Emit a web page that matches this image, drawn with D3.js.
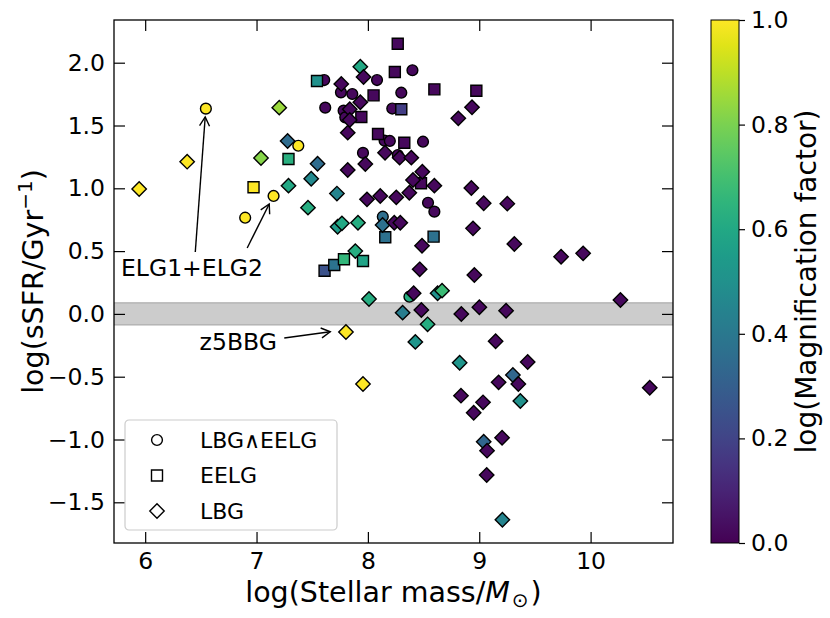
<!DOCTYPE html>
<html><head><meta charset="utf-8">
<script src="https://cdn.jsdelivr.net/npm/d3@7"></script>
<style>body{margin:0;background:#fff} text{font-family:"DejaVu Sans",sans-serif;fill:#000}</style>
</head><body><svg id="chart" width="830" height="618"></svg>
<script>
// LBG ∧ EELG (circles)
const bothMass=[6.545,7.375,6.898,7.153,7.608,8.400,8.082,7.758,7.860,8.300,7.617,7.782,7.797,8.219,8.150,8.197,8.495,7.956,8.269,8.540,8.597,8.134,8.373];
const bothSSFR=[1.634,1.339,0.766,0.939,1.862,1.940,1.862,1.764,1.751,1.761,1.642,1.618,1.565,1.635,1.379,1.377,1.371,1.282,1.265,0.885,0.814,0.774,0.137];
const bothMag=[1.0,1.0,1.0,1.0,0.02,0.02,0.02,0.02,0.02,0.02,0.02,0.02,0.02,0.02,0.02,0.02,0.02,0.02,0.02,0.02,0.02,0.36,0.62];
// EELG (squares)
const eelgMass=[8.268,8.242,7.543,8.051,8.597,8.974,7.941,8.300,8.091,8.327,8.477,6.973,7.287,8.156,8.590,7.611,7.698,7.785,7.956];
const eelgSSFR=[2.151,1.926,1.854,1.740,1.788,1.777,1.568,1.629,1.432,1.363,1.040,1.008,1.233,0.610,0.615,0.344,0.389,0.435,0.421];
const eelgMag=[0.02,0.02,0.50,0.02,0.02,0.02,0.02,0.18,0.02,0.02,0.02,1.0,0.63,0.37,0.37,0.25,0.38,0.66,0.58];
// LBG (diamonds)
const lbgMass=[7.932,7.961,7.761,7.932,7.204,7.837,7.837,8.935,8.812,7.819,7.279,8.154,8.285,8.390,7.040,7.548,7.819,7.977,7.491,8.489,8.405,8.597,8.929,7.287,6.377,5.946,7.722,7.992,8.111,8.255,8.372,9.040,9.252,7.462,7.728,7.767,7.911,8.132,8.237,8.291,8.944,8.486,9.315,9.735,9.933,7.887,8.465,8.956,8.411,8.626,8.666,8.010,8.312,8.480,8.536,8.839,9.001,9.241,10.268,7.803,8.426,9.147,8.824,9.435,7.956,9.302,9.174,9.351,10.531,8.836,9.034,9.369,8.950,9.040,9.205,9.070,9.067,9.208];
const lbgSSFR=[1.968,1.886,1.831,1.685,1.642,1.629,1.544,1.645,1.557,1.443,1.377,1.283,1.244,1.244,1.241,1.196,1.146,1.194,1.076,1.132,1.066,1.021,1.002,1.021,1.212,0.994,0.958,0.912,0.939,0.928,0.965,0.881,0.878,0.846,0.694,0.721,0.726,0.708,0.726,0.726,0.681,0.543,0.557,0.455,0.482,0.500,0.355,0.310,0.164,0.164,0.185,0.119,0.010,0.031,-0.083,-0.001,0.053,0.025,0.111,-0.144,-0.223,-0.218,-0.389,-0.383,-0.558,-0.486,-0.545,-0.558,-0.588,-0.651,-0.704,-0.693,-0.787,-1.018,-0.986,-1.089,-1.283,-1.639];
const lbgMag=[0.60,0.02,0.02,0.02,0.85,0.02,0.02,0.02,0.02,0.02,
0.35,0.02,0.02,0.02,0.82,0.35,0.02,0.02,0.47,0.02,
0.02,0.02,0.02,0.60,1.0,1.0,0.45,0.02,0.02,0.02,
0.02,0.02,0.02,0.62,0.55,0.60,0.62,0.37,0.02,0.02,
0.02,0.02,0.02,0.02,0.02,0.62,0.02,0.02,0.02,0.50,
0.68,0.62,0.42,0.02,0.62,0.02,0.02,0.02,0.02,1.0,
0.52,0.02,0.52,0.02,1.0,0.33,0.02,0.02,0.02,0.02,
0.02,0.50,0.02,0.33,0.02,0.02,0.02,0.45];

const legendLabels=["LBG\u2227EELG","EELG","LBG"];
const xTicks=[6,7,8,9,10];
const yTicks=[-1.5,-1.0,-0.5,0.0,0.5,1.0,1.5,2.0];
const cbTicks=[0.0,0.2,0.4,0.6,0.8,1.0];
const bandLimits=[-0.088,0.088];
const xDomain=[5.72,10.74], yDomain=[-1.824,2.34];
const annotTexts=[["ELG1+ELG2",6.42,0.365],["z5BBG",6.836,-0.224]];
const arrows=[[6.45,0.493,6.539,1.568],[6.916,0.525,7.114,0.875],[7.249,-0.192,7.662,-0.142]];

const svg=d3.select("#chart");
const L=114,R=673,T=20,B=543;
const x=d3.scaleLinear().domain(xDomain).range([L,R]);
const y=d3.scaleLinear().domain(yDomain).range([B,T]);
const color=d3.scaleSequential(d3.interpolateViridis).domain([0,1]);

const clip=svg.append("defs").append("clipPath").attr("id","clip");
clip.append("rect").attr("x",L).attr("y",T).attr("width",R-L).attr("height",B-T);

const g=svg.append("g").attr("clip-path","url(#clip)");
g.append("rect").attr("x",L).attr("width",R-L)
  .attr("y",y(bandLimits[1])).attr("height",y(bandLimits[0])-y(bandLimits[1]))
  .attr("fill","#cccccc").attr("stroke","none");
bandLimits.forEach(v=>g.append("line").attr("x1",L).attr("x2",R).attr("y1",y(v)).attr("y2",y(v))
  .attr("stroke","#adadad").attr("stroke-width",1.3));

function shapePath(kind){
  if(kind==="circle") return "M5.4,0A5.4,5.4 0 1,1 -5.4,0A5.4,5.4 0 1,1 5.4,0Z";
  if(kind==="square") return "M-5.5,-5.5H5.5V5.5H-5.5Z";
  return "M0,-7.2L7.2,0L0,7.2L-7.2,0Z";
}
function drawSet(mass,ssfr,mag,kind){
  const d=mass.map((m,i)=>({m,s:ssfr[i],c:mag[i]}));
  g.append("g").selectAll("path").data(d).join("path")
    .attr("d",shapePath(kind))
    .attr("transform",p=>`translate(${x(p.m)},${y(p.s)})`)
    .attr("fill",p=>color(p.c)).attr("stroke","#000").attr("stroke-width",1.4);
}
drawSet(bothMass,bothSSFR,bothMag,"circle");
drawSet(eelgMass,eelgSSFR,eelgMag,"square");
drawSet(lbgMass,lbgSSFR,lbgMag,"diamond");

const fmt=d3.format(".1f");
function styleAxis(sel){sel.select(".domain").remove();sel.selectAll(".tick line").attr("stroke","#000").attr("stroke-width",1.2);
  sel.selectAll("text").style("font-family","DejaVu Sans").style("font-size","23.5px").attr("fill","#000");}
svg.append("g").attr("transform",`translate(0,${B})`).call(d3.axisBottom(x).tickValues(xTicks).tickSizeInner(-11).tickSizeOuter(0).tickPadding(9).tickFormat(d3.format("d"))).call(styleAxis);
svg.append("g").attr("transform",`translate(0,${T})`).call(d3.axisTop(x).tickValues(xTicks).tickSizeInner(-11).tickSizeOuter(0).tickFormat("")).call(styleAxis);
svg.append("g").attr("transform",`translate(${L},0)`).call(d3.axisLeft(y).tickValues(yTicks).tickSizeInner(-11).tickSizeOuter(0).tickPadding(9).tickFormat(fmt)).call(styleAxis);
svg.append("g").attr("transform",`translate(${R},0)`).call(d3.axisRight(y).tickValues(yTicks).tickSizeInner(-11).tickSizeOuter(0).tickFormat("")).call(styleAxis);
svg.append("rect").attr("x",L).attr("y",T).attr("width",R-L).attr("height",B-T).attr("fill","none").attr("stroke","#000").attr("stroke-width",1.3);

svg.append("text").attr("x",(L+R)/2).attr("y",602).attr("text-anchor","middle").style("font-size","28.5px")
  .html('log(Stellar mass/<tspan font-style="italic">M</tspan><tspan font-size="20px" dy="5" dx="2">\u2299</tspan><tspan dy="-5" dx="2">)</tspan>');
svg.append("text").attr("transform",`translate(43,${(T+B)/2}) rotate(-90)`).attr("text-anchor","middle").style("font-size","28.5px")
  .html('log(sSFR/Gyr<tspan font-size="20px" dy="-11">\u22121</tspan><tspan dy="11">)</tspan>');

svg.append("defs").append("marker").attr("id","ah").attr("viewBox","-10 -6 12 12").attr("refX",0).attr("refY",0)
  .attr("markerWidth",12).attr("markerHeight",12).attr("markerUnits","userSpaceOnUse").attr("orient","auto")
  .append("path").attr("d","M-9,-5L0,0L-9,5").attr("fill","none").attr("stroke","#000").attr("stroke-width",1.4);
arrows.forEach(a=>svg.append("line").attr("x1",x(a[0])).attr("y1",y(a[1])).attr("x2",x(a[2])).attr("y2",y(a[3]))
  .attr("stroke","#000").attr("stroke-width",1.4).attr("marker-end","url(#ah)"));
annotTexts.forEach(t=>svg.append("text").attr("x",x(t[1])).attr("y",y(t[2])).attr("text-anchor","middle")
  .attr("dominant-baseline","central").style("font-size","23.5px").text(t[0]));

const lg=svg.append("g").attr("transform","translate(125,420)");
lg.append("rect").attr("width",212).attr("height",110).attr("rx",4).attr("fill","#fff").attr("fill-opacity",0.8).attr("stroke","#cccccc").attr("stroke-width",1.2);
["circle","square","diamond"].forEach((k,i)=>{
  const yy=20+i*35.5;
  lg.append("path").attr("d",shapePath(k)).attr("transform",`translate(32,${yy})`).attr("fill","#fff").attr("stroke","#000").attr("stroke-width",1.4);
  lg.append("text").attr("x",75).attr("y",yy).attr("dominant-baseline","central").style("font-size","22px").text(legendLabels[i]);
});

const cbX=711,cbW=28;
const grad=svg.append("defs").append("linearGradient").attr("id","vg").attr("x1",0).attr("y1",1).attr("x2",0).attr("y2",0);
d3.range(0,1.0001,0.05).forEach(t=>grad.append("stop").attr("offset",t).attr("stop-color",color(t)));
svg.append("rect").attr("x",cbX).attr("y",T).attr("width",cbW).attr("height",B-T).attr("fill","url(#vg)").attr("stroke","#000").attr("stroke-width",1);
const cy=d3.scaleLinear().domain([0,1]).range([B,T]);
svg.append("g").attr("transform",`translate(${cbX+cbW},0)`).call(d3.axisRight(cy).tickValues(cbTicks).tickSizeInner(6).tickSizeOuter(0).tickPadding(6).tickFormat(fmt)).call(styleAxis);
svg.append("text").attr("transform",`translate(816,${(T+B)/2}) rotate(-90)`).attr("text-anchor","middle").style("font-size","28px").text("log(Magnification factor)");
</script></body></html>
